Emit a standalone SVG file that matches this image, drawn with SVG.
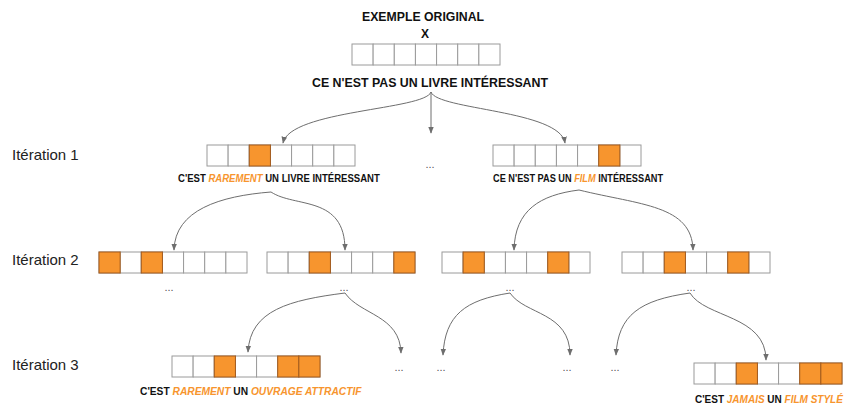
<svg xmlns="http://www.w3.org/2000/svg" width="851" height="407" viewBox="0 0 851 407">
<style>
.c{fill:#fff;stroke:#9a9a9a;stroke-width:1}
.o{fill:#f7952e;stroke:#a35b1d;stroke-width:1}
.t{font-family:"Liberation Sans",Arial,sans-serif;font-size:11px;font-weight:bold;fill:#111}
.h{font-style:italic;fill:#f7952e}
.big{font-size:12px}
.lab{font-family:"Liberation Sans",Arial,sans-serif;font-size:15px;fill:#222}
.dots{font-family:"Liberation Sans",Arial,sans-serif;font-size:11px;fill:#555;text-anchor:middle}
.a{fill:none;stroke:#6e6e6e;stroke-width:1;marker-end:url(#ah)}
</style>
<defs>
<marker id="ah" viewBox="0 0 10 10" refX="9" refY="5" markerWidth="7" markerHeight="7" markerUnits="userSpaceOnUse" orient="auto">
<path d="M0,1 L10,5 L0,9 Z" fill="#6e6e6e"/>
</marker>
<g id="row">
<rect class="c" x="0" y="0" width="21.14" height="21"/>
<rect class="c" x="21.14" y="0" width="21.14" height="21"/>
<rect class="c" x="42.29" y="0" width="21.14" height="21"/>
<rect class="c" x="63.43" y="0" width="21.14" height="21"/>
<rect class="c" x="84.57" y="0" width="21.14" height="21"/>
<rect class="c" x="105.71" y="0" width="21.14" height="21"/>
<rect class="c" x="126.86" y="0" width="21.14" height="21"/>
</g>
</defs>

<g id="labels">
<text class="lab" x="12" y="160">Itération 1</text>
<text class="lab" x="12" y="265">Itération 2</text>
<text class="lab" x="12" y="370">Itération 3</text>
</g>

<g id="original">
<text class="t big" x="362" y="21" textLength="122" lengthAdjust="spacingAndGlyphs">EXEMPLE ORIGINAL</text>
<text class="t big" x="425" y="38" text-anchor="middle">X</text>
<use href="#row" x="352" y="44"/>
<text class="t big" x="312" y="87" textLength="236" lengthAdjust="spacingAndGlyphs">CE N'EST PAS UN LIVRE INTÉRESSANT</text>
</g>

<g id="it1-left">
<use href="#row" x="207" y="145"/>
<rect class="o" x="249.29" y="145" width="21.14" height="21"/>
<text class="t" transform="translate(178,182) scale(0.869,1)">C'EST <tspan class="h">RAREMENT</tspan> UN LIVRE INTÉRESSANT</text>
</g>

<g id="it1-dots"><text class="dots" x="430" y="168">...</text></g>

<g id="it1-right">
<use href="#row" x="493" y="145"/>
<rect class="o" x="598.71" y="145" width="21.14" height="21"/>
<text class="t" transform="translate(493,182) scale(0.837,1)">CE N'EST PAS UN <tspan class="h">FILM</tspan> INTÉRESSANT</text>
</g>

<g id="it2-a">
<use href="#row" x="99" y="252"/>
<rect class="o" x="99" y="252" width="21.14" height="21"/>
<rect class="o" x="141.29" y="252" width="21.14" height="21"/>
<text class="dots" x="169" y="291">...</text>
</g>
<g id="it2-b">
<use href="#row" x="267" y="252"/>
<rect class="o" x="309.29" y="252" width="21.14" height="21"/>
<rect class="o" x="393.86" y="252" width="21.14" height="21"/>
<text class="dots" x="344" y="291">...</text>
</g>
<g id="it2-c">
<use href="#row" x="442" y="252"/>
<rect class="o" x="463.14" y="252" width="21.14" height="21"/>
<rect class="o" x="547.71" y="252" width="21.14" height="21"/>
<text class="dots" x="510" y="291">...</text>
</g>
<g id="it2-d">
<use href="#row" x="622" y="252"/>
<rect class="o" x="664.29" y="252" width="21.14" height="21"/>
<rect class="o" x="727.71" y="252" width="21.14" height="21"/>
<text class="dots" x="691" y="291">...</text>
</g>

<g id="it3-a">
<use href="#row" x="172" y="356"/>
<rect class="o" x="214.29" y="356" width="21.14" height="21"/>
<rect class="o" x="277.71" y="356" width="21.14" height="21"/>
<rect class="o" x="298.86" y="356" width="21.14" height="21"/>
<text class="t" transform="translate(140,395) scale(0.93,1)">C'EST <tspan class="h">RAREMENT</tspan> UN <tspan class="h">OUVRAGE ATTRACTIF</tspan></text>
</g>
<g id="it3-dots">
<text class="dots" x="399" y="371">...</text>
<text class="dots" x="441" y="371">...</text>
<text class="dots" x="567" y="371">...</text>
<text class="dots" x="615" y="371">...</text>
</g>
<g id="it3-b">
<use href="#row" x="694" y="363"/>
<rect class="o" x="736.29" y="363" width="21.14" height="21"/>
<rect class="o" x="799.71" y="363" width="21.14" height="21"/>
<rect class="o" x="820.86" y="363" width="21.14" height="21"/>
<text class="t" transform="translate(695,403) scale(0.91,1)">C'EST <tspan class="h">JAMAIS</tspan> UN <tspan class="h">FILM STYLÉ</tspan></text>
</g>

<g id="connectors">
<path class="a" d="M431,92 C425,110 290,110 283,143"/>
<path class="a" d="M431,92 L431,133"/>
<path class="a" d="M431,92 C437,110 560,110 565,143"/>
<path class="a" d="M271,192 C220,196 175,210 174,250"/>
<path class="a" d="M271,192 C295,208 345,195 345,250"/>
<path class="a" d="M579,190 C540,195 515,210 514,250"/>
<path class="a" d="M579,190 C640,205 692,205 693,250"/>
<path class="a" d="M345,293 C290,300 250,310 248,352"/>
<path class="a" d="M345,293 C360,315 400,315 401,353"/>
<path class="a" d="M510,293 C465,300 445,315 443,355"/>
<path class="a" d="M510,293 C525,315 570,312 570,355"/>
<path class="a" d="M690,293 C640,300 618,315 616,355"/>
<path class="a" d="M690,293 C705,318 766,315 766,360"/>
</g>
</svg>
